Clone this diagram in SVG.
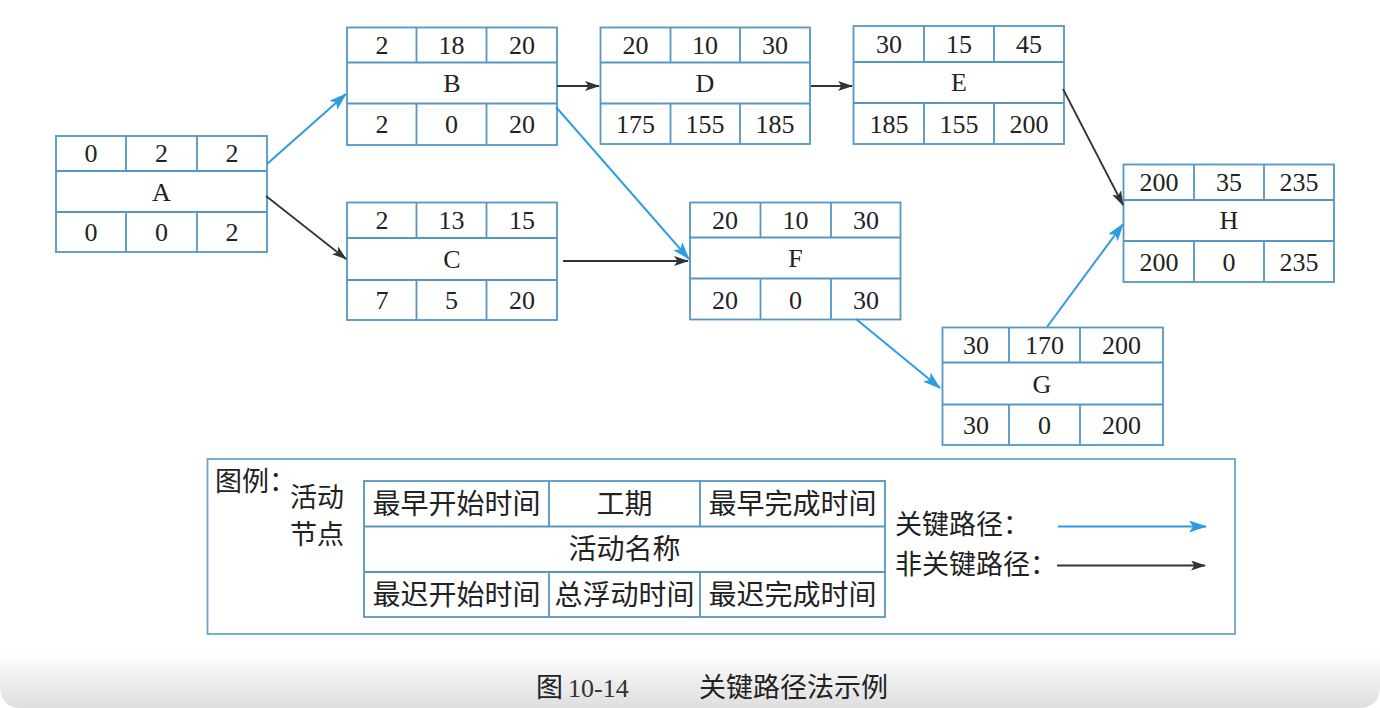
<svg xmlns="http://www.w3.org/2000/svg" width="1380" height="708" viewBox="0 0 1380 708">
<defs>
<linearGradient id="bg" x1="0" y1="652" x2="0" y2="708" gradientUnits="userSpaceOnUse">
<stop offset="0" stop-color="#ffffff"/>
<stop offset="1" stop-color="#dedede"/>
</linearGradient>
<marker id="ab" viewBox="0 0 18 12" refX="17" refY="6" markerWidth="18" markerHeight="12" markerUnits="userSpaceOnUse" orient="auto">
<path d="M0,0 L18,6 L0,12 L4,6 z" fill="#2e9ce0"/>
</marker>
<marker id="ak" viewBox="0 0 15 10" refX="14" refY="5" markerWidth="15" markerHeight="10" markerUnits="userSpaceOnUse" orient="auto">
<path d="M0,0 L15,5 L0,10 L3.5,5 z" fill="#333333"/>
</marker>
</defs>
<style>
.box{fill:#ffffff;stroke:#5596c4;stroke-width:1.8}
.ln{stroke:#5596c4;stroke-width:1.8;fill:none}
.t{font-family:"Liberation Serif",serif;font-size:26px;fill:#222;text-anchor:middle}
.c{font-family:"Noto Sans CJK SC",sans-serif;font-size:27px;fill:#222}
.cm{font-family:"Noto Sans CJK SC",sans-serif;font-size:28px;fill:#222;text-anchor:middle}
.crit{stroke:#2e9ce0;stroke-width:2;fill:none;marker-end:url(#ab)}
.non{stroke:#333333;stroke-width:1.8;fill:none;marker-end:url(#ak)}
</style>
<rect x="0" y="0" width="1380" height="708" fill="#ffffff"/>
<path d="M0,640 H1380 V686 Q1380,708 1358,708 H22 Q0,708 0,686 Z" fill="url(#bg)"/>

<g id="node-A">
<rect class="box" x="56" y="136" width="211" height="116"/>
<path class="ln" d="M56,171 H267 M56,212 H267 M126,136 V171 M197,136 V171 M126,212 V252 M197,212 V252"/>
<text class="t" x="91" y="162">0</text><text class="t" x="161.5" y="162">2</text><text class="t" x="232" y="162">2</text>
<text class="t" x="161.5" y="201">A</text>
<text class="t" x="91" y="241">0</text><text class="t" x="161.5" y="241">0</text><text class="t" x="232" y="241">2</text>
</g>

<g id="node-B">
<rect class="box" x="347" y="27.5" width="210" height="117.5"/>
<path class="ln" d="M347,62.5 H557 M347,103.5 H557 M416.5,27.5 V62.5 M486.5,27.5 V62.5 M416.5,103.5 V145 M486.5,103.5 V145"/>
<text class="t" x="382" y="54">2</text><text class="t" x="451.5" y="54">18</text><text class="t" x="522" y="54">20</text>
<text class="t" x="452" y="92">B</text>
<text class="t" x="382" y="133">2</text><text class="t" x="451.5" y="133">0</text><text class="t" x="522" y="133">20</text>
</g>

<g id="node-C">
<rect class="box" x="347" y="202.5" width="210" height="117.5"/>
<path class="ln" d="M347,238 H557 M347,280 H557 M416.5,202.5 V238 M486.5,202.5 V238 M416.5,280 V320 M486.5,280 V320"/>
<text class="t" x="382" y="229">2</text><text class="t" x="451.5" y="229">13</text><text class="t" x="522" y="229">15</text>
<text class="t" x="452" y="268">C</text>
<text class="t" x="382" y="309">7</text><text class="t" x="451.5" y="309">5</text><text class="t" x="522" y="309">20</text>
</g>

<g id="node-D">
<rect class="box" x="600.5" y="27.5" width="209.5" height="116.5"/>
<path class="ln" d="M600.5,62.5 H810 M600.5,103.5 H810 M670.5,27.5 V62.5 M740,27.5 V62.5 M670.5,103.5 V144 M740,103.5 V144"/>
<text class="t" x="635.5" y="54">20</text><text class="t" x="705" y="54">10</text><text class="t" x="775" y="54">30</text>
<text class="t" x="705" y="92">D</text>
<text class="t" x="635.5" y="133">175</text><text class="t" x="705" y="133">155</text><text class="t" x="775" y="133">185</text>
</g>

<g id="node-E">
<rect class="box" x="853.5" y="26" width="210.5" height="118"/>
<path class="ln" d="M853.5,62 H1064 M853.5,103 H1064 M924,26 V62 M994,26 V62 M924,103 V144 M994,103 V144"/>
<text class="t" x="889" y="53">30</text><text class="t" x="959" y="53">15</text><text class="t" x="1029" y="53">45</text>
<text class="t" x="959" y="91">E</text>
<text class="t" x="889" y="133">185</text><text class="t" x="959" y="133">155</text><text class="t" x="1029" y="133">200</text>
</g>

<g id="node-F">
<rect class="box" x="690" y="202.5" width="210.5" height="117"/>
<path class="ln" d="M690,237.5 H900.5 M690,278.5 H900.5 M760.5,202.5 V237.5 M831,202.5 V237.5 M760.5,278.5 V319.5 M831,278.5 V319.5"/>
<text class="t" x="725" y="229">20</text><text class="t" x="795.5" y="229">10</text><text class="t" x="866" y="229">30</text>
<text class="t" x="795.5" y="267">F</text>
<text class="t" x="725" y="309">20</text><text class="t" x="795.5" y="309">0</text><text class="t" x="866" y="309">30</text>
</g>

<g id="node-G">
<rect class="box" x="942.5" y="327.5" width="220.5" height="117.5"/>
<path class="ln" d="M942.5,362.5 H1163 M942.5,404.5 H1163 M1009,327.5 V362.5 M1080,327.5 V362.5 M1009,404.5 V445 M1080,404.5 V445"/>
<text class="t" x="976" y="354">30</text><text class="t" x="1044.5" y="354">170</text><text class="t" x="1121.5" y="354">200</text>
<text class="t" x="1042" y="393">G</text>
<text class="t" x="976" y="434">30</text><text class="t" x="1044.5" y="434">0</text><text class="t" x="1121.5" y="434">200</text>
</g>

<g id="node-H">
<rect class="box" x="1123.5" y="164.5" width="210.5" height="117.5"/>
<path class="ln" d="M1123.5,200 H1334 M1123.5,241 H1334 M1194,164.5 V200 M1264,164.5 V200 M1194,241 V282 M1264,241 V282"/>
<text class="t" x="1159" y="191">200</text><text class="t" x="1229" y="191">35</text><text class="t" x="1299" y="191">235</text>
<text class="t" x="1229" y="229">H</text>
<text class="t" x="1159" y="271">200</text><text class="t" x="1229" y="271">0</text><text class="t" x="1299" y="271">235</text>
</g>

<g id="connectors">
<line class="crit" x1="267" y1="164" x2="346" y2="94"/>
<line class="non" x1="266" y1="196" x2="346" y2="259"/>
<line class="non" x1="557" y1="86" x2="599" y2="86"/>
<line class="crit" x1="556" y1="107" x2="689" y2="259"/>
<line class="non" x1="563" y1="261" x2="688" y2="261"/>
<line class="non" x1="811" y1="86" x2="852" y2="86"/>
<line class="non" x1="1063" y1="89" x2="1123" y2="205"/>
<line class="crit" x1="856" y1="319" x2="940" y2="388"/>
<line class="crit" x1="1047" y1="327" x2="1123" y2="224"/>
</g>

<g id="legend">
<rect x="207.5" y="459" width="1027.5" height="175" fill="none" stroke="#6aa6cf" stroke-width="1.8"/>
<text class="c" x="215" y="491" font-size="24">图例：</text>
<text class="c" x="290" y="507" font-size="25">活动</text>
<text class="c" x="290" y="544" font-size="25">节点</text>
<rect class="box" x="364" y="481" width="521" height="136"/>
<path class="ln" d="M364,526.5 H885 M364,572 H885 M549,481 V526.5 M700,481 V526.5 M549,572 V617 M700,572 V617"/>
<text class="cm" x="456.5" y="514">最早开始时间</text>
<text class="cm" x="624.5" y="514">工期</text>
<text class="cm" x="792.5" y="514">最早完成时间</text>
<text class="cm" x="624.5" y="559">活动名称</text>
<text class="cm" x="456.5" y="605">最迟开始时间</text>
<text class="cm" x="624.5" y="605">总浮动时间</text>
<text class="cm" x="792.5" y="605">最迟完成时间</text>
<text class="c" x="895" y="534">关键路径：</text>
<text class="c" x="895" y="574">非关键路径：</text>
<line class="crit" x1="1058" y1="526.5" x2="1206" y2="526.5"/>
<line class="non" x1="1057" y1="565.5" x2="1205" y2="565.5"/>
</g>

<g id="caption">
<text class="c" x="536" y="697" font-size="26" fill="#333">图</text>
<text x="568" y="697" font-family="Liberation Serif, serif" font-size="26" fill="#333">10-14</text>
<text class="c" x="699" y="697" font-size="26" fill="#333">关键路径法示例</text>
</g>
</svg>
